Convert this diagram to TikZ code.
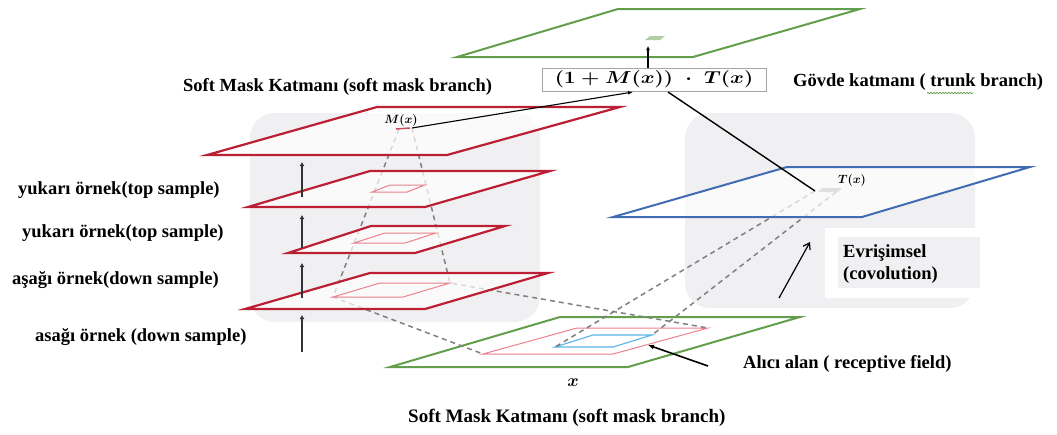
\documentclass[tikz,border=0pt]{standalone}
\usepackage{fontspec}
\usepackage{graphicx}
\IfFontExistsTF{LiberationSerif-Bold.ttf}
  {\setmainfont{LiberationSerif-Regular.ttf}[BoldFont=LiberationSerif-Bold.ttf,
     ItalicFont=LiberationSerif-Italic.ttf, BoldItalicFont=LiberationSerif-BoldItalic.ttf]}
  {\setmainfont{Liberation Serif}}
\usetikzlibrary{arrows.meta,decorations.pathmorphing,calc}
\definecolor{rplane}{RGB}{188,30,52}
\definecolor{gplane}{RGB}{98,158,76}
\definecolor{bplane}{RGB}{66,108,178}
\definecolor{pinkrf}{RGB}{236,128,140}
\definecolor{ltblue}{RGB}{90,180,230}
\definecolor{dashgray}{RGB}{128,128,128}
\definecolor{panel}{RGB}{240,240,242}
\begin{document}
\begin{tikzpicture}[x=1pt,y=-1pt,
  lbl/.style={font=\fontsize{18.5}{22}\selectfont\bfseries, inner sep=0pt, anchor=west},
  redplane/.style={draw=rplane, line width=2.2pt, fill=white, fill opacity=0.7},
  greenplane/.style={draw=gplane, line width=2pt, fill=white},
  blueplane/.style={draw=bplane, line width=2pt, fill=white, fill opacity=0.7},
  inner/.style={draw=pinkrf, line width=1pt},
  field/.style={draw=ltblue, line width=1.1pt},
  proj/.style={draw=dashgray, line width=1.5pt, dash pattern=on 5pt off 4pt},
  upsample/.style={draw=black!80, line width=2.4pt, -{Latex[length=4pt,width=5pt]}},
  mathlbl/.style={font=\fontsize{12}{14}\selectfont\boldmath, inner sep=0pt},
]
\useasboundingbox (0,0) rectangle (1057,434);

% grey panels behind the two branches
\fill[panel, rounded corners=25pt] (250,113) rectangle (540,322);
\fill[panel, rounded corners=25pt] (685,113) rectangle (975,308);
\fill[white] (825,228) rectangle (980,298);
\fill[panel] (838,237) rectangle (980,288);

% input plane x with receptive field
\draw[greenplane] (390,367) -- (628,367) -- (800,317) -- (560,317) -- cycle;
\coordinate (pinkBL) at (483,354);
\coordinate (pinkTR) at (708,328);
\draw[inner] (pinkBL) -- (613,354) -- (pinkTR) -- (577,328) -- cycle;
\coordinate (blueBL) at (555,347);
\coordinate (blueTR) at (652,335);
\draw[field] (blueBL) -- (613,347) -- (blueTR) -- (593,335) -- cycle;

% projections of the fields
\coordinate (mL) at (399,129);
\coordinate (mR) at (412,128);
\coordinate (r4L) at (333,297);
\coordinate (r4R) at (450,283);
\coordinate (tL) at (815,191);
\coordinate (tR) at (836,192);
\draw[proj] (mL) -- (r4L) -- (pinkBL);
\draw[proj] (mR) -- (r4R) -- (pinkTR);
\draw[proj] (tL) -- (blueBL);
\draw[proj] (tR) -- (blueTR);

% soft mask branch planes
\draw[redplane] (207,155) -- (447,155) -- (620,107) -- (377,107) -- cycle;
\draw[redplane] (248,207) -- (425,207) -- (550,171) -- (370,171) -- cycle;
\draw[redplane] (288,253) -- (415,253) -- (505,226) -- (371,226) -- cycle;
\draw[redplane] (245,309) -- (425,309) -- (548,273) -- (370,273) -- cycle;
\draw[inner] (372,192) -- (407,192) -- (425,185) -- (390,185) -- cycle;
\draw[inner] (354,243) -- (405,243) -- (436,233) -- (385,233) -- cycle;
\draw[inner] (r4L) -- (403,297) -- (r4R) -- (380,283) -- cycle;
\draw[rplane!80, line width=1.5pt] (396,129) -- (410,128);

% trunk branch plane
\draw[blueplane] (613,217) -- (862,217) -- (1030,167) -- (787,167) -- cycle;
\fill[gray!25] (818,192) -- (838,192) -- (842,188) -- (822,188) -- cycle;

% output plane
\draw[greenplane] (457,57) -- (693,57) -- (860,9) -- (618,9) -- cycle;
\fill[gplane!50] (645,40) -- (660,40) -- (665,36) -- (650,36) -- cycle;
\coordinate (outmark) at (648,46);

% combination node
\node[draw=gray!70, line width=1pt, minimum width=224pt, minimum height=23pt, inner sep=0pt,
      font=\fontsize{18}{21}\selectfont\boldmath] (formula) at (654,79.5)
  {\scalebox{1.22}[1]{$\bigl(1 + M(x)\bigr) \;\cdot\; T(x)$}};
\coordinate (fin) at (633,92);
\coordinate (fout) at (668,92);

\node[mathlbl] (mlbl) at (401,120) {$M(x)$};
\node[mathlbl] (tlbl) at (852,180) {$T(x)$};
\node[font=\fontsize{16}{18}\selectfont\boldmath, inner sep=0pt] (xlbl) at (573,383) {$x$};

\draw[line width=1.1pt, -{Latex[length=5pt,width=4pt]}] (mR) -- (fin);
\draw[line width=1.4pt] (fout) -- (tL);
\draw[line width=1.4pt, -{Latex[length=4pt,width=4pt]}] (formula.north -| outmark) -- (outmark);

% sampling arrows
\coordinate (a1b) at (302,197); \coordinate (a1t) at (302,162);
\coordinate (a2b) at (302,248); \coordinate (a2t) at (302,215);
\coordinate (a3b) at (302,298); \coordinate (a3t) at (302,263);
\coordinate (a4b) at (302,352); \coordinate (a4t) at (302,315);
\draw[upsample] (a1b) -- (a1t);
\draw[upsample] (a2b) -- (a2t);
\draw[upsample] (a3b) -- (a3t);
\draw[upsample] (a4b) -- (a4t);

% convolution and receptive field pointers
\coordinate (cvS) at (779,298);
\coordinate (cvE) at (810,242);
\draw[line width=1.2pt, -{Straight Barb[length=6pt,width=8pt]}] (cvS) -- (cvE);
\coordinate (rfS) at (708,366);
\coordinate (rfE) at (648,345);
\draw[line width=1.6pt, -{Latex[length=6pt,width=5pt]}] (rfS) -- (rfE);

% labels
\node[lbl] (softtop) at (183,87) {Soft Mask Katmanı (soft mask branch)};
\node[lbl] (trunk) at (793,82) {Gövde katmanı ( trunk branch)};
\draw[gplane, line width=0.7pt, decorate, decoration={snake, amplitude=0.7pt, segment length=3pt}]
  (927,93) -- (973,93);
\node[lbl] (up1) at (18,190) {yukarı örnek(top sample)};
\node[lbl] (up2) at (22,233) {yukarı örnek(top sample)};
\node[lbl] (dn1) at (12,280) {aşağı örnek(down sample)};
\node[lbl] (dn2) at (35,337) {asağı örnek (down sample)};
\node[lbl, align=left] (conv) at (843,264.5) {Evrişimsel\\(covolution)};
\node[lbl] (rf) at (743,364) {Alıcı alan ( receptive field)};
\node[lbl, font=\fontsize{19}{22}\selectfont\bfseries] (softbot) at (408,418) {Soft Mask Katmanı (soft mask branch)};
\end{tikzpicture}
\end{document}
